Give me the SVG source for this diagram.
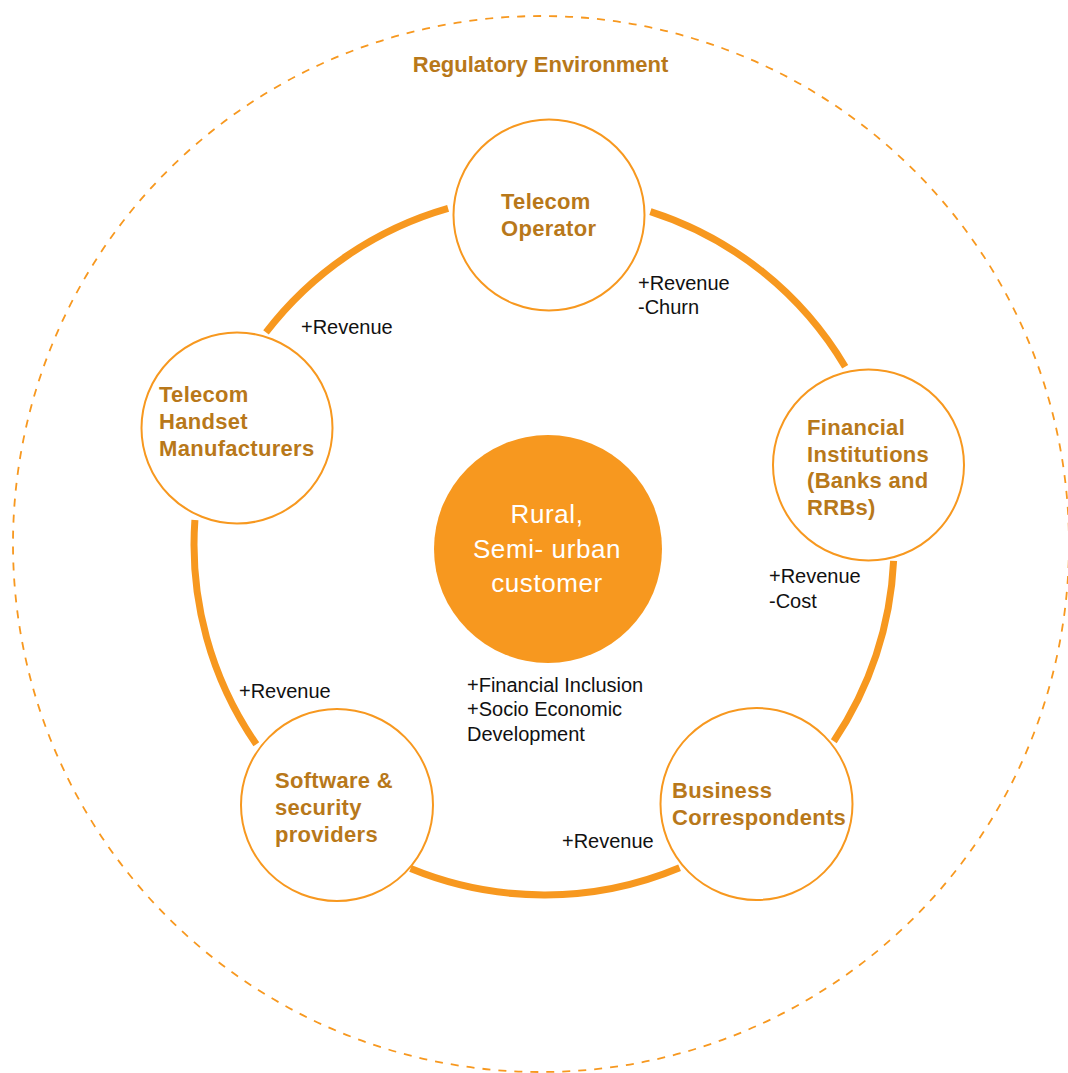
<svg xmlns="http://www.w3.org/2000/svg" width="1068" height="1073" viewBox="0 0 1068 1073">
<style>
.env{fill:none;stroke:#F7981F;stroke-width:1.8;stroke-dasharray:8 8}
.ring{fill:none;stroke:#F7981F;stroke-width:7;stroke-linecap:butt}
.node{fill:#FFFFFF;stroke:#F7981F;stroke-width:2}
.hub{fill:#F7981F}
.bt{font-family:"Liberation Sans",Arial,sans-serif;font-weight:bold;font-size:22px;fill:#B8781A;letter-spacing:0.3px}
.lt{font-family:"Liberation Sans",Arial,sans-serif;font-size:20px;fill:#111111}
.ht{font-family:"Liberation Sans",Arial,sans-serif;font-size:26px;fill:#FFFFFF;text-anchor:middle;letter-spacing:0.6px}
</style>
<rect width="1068" height="1073" fill="#FFFFFF"/>
<g id="regulatory-environment">
<circle class="env" cx="541" cy="544" r="528"/>
<text class="bt" x="540.5" y="72" text-anchor="middle" style="letter-spacing:0">Regulatory Environment</text>
</g>
<g id="connectors">
<path class="ring" d="M266,332.4 A351,351 0 0 1 448.1,208.4"/>
<path class="ring" d="M650.4,211.6 A351,351 0 0 1 845.2,366.8"/>
<path class="ring" d="M893.6,560.9 A351,351 0 0 1 833.8,741.2"/>
<path class="ring" d="M679.6,867.7 A351,351 0 0 1 410.6,868.6"/>
<path class="ring" d="M256.3,744.3 A351,351 0 0 1 194.9,520"/>
<text class="lt" x="301" y="334">+Revenue</text>
<text class="lt" x="638" y="290">+Revenue</text>
<text class="lt" x="638" y="314">-Churn</text>
<text class="lt" x="769" y="583">+Revenue</text>
<text class="lt" x="769" y="607.5">-Cost</text>
<text class="lt" x="562" y="848">+Revenue</text>
<text class="lt" x="239" y="698">+Revenue</text>
</g>
<g id="telecom-operator">
<circle class="node" cx="549" cy="215" r="95.5"/>
<text class="bt" x="501" y="209">Telecom</text>
<text class="bt" x="501" y="236">Operator</text>
</g>
<g id="telecom-handset-manufacturers">
<circle class="node" cx="237" cy="428" r="95.5"/>
<text class="bt" x="159" y="402">Telecom</text>
<text class="bt" x="159" y="429">Handset</text>
<text class="bt" x="159" y="456">Manufacturers</text>
</g>
<g id="financial-institutions">
<circle class="node" cx="868.5" cy="465" r="95.5"/>
<text class="bt" x="807" y="435">Financial</text>
<text class="bt" x="807" y="461.5">Institutions</text>
<text class="bt" x="807" y="488">(Banks and</text>
<text class="bt" x="807" y="514.5">RRBs)</text>
</g>
<g id="business-correspondents">
<circle class="node" cx="756.5" cy="804" r="96"/>
<text class="bt" x="672" y="798">Business</text>
<text class="bt" x="672" y="825">Correspondents</text>
</g>
<g id="software-security-providers">
<circle class="node" cx="337" cy="805" r="96"/>
<text class="bt" x="275" y="788">Software &amp;</text>
<text class="bt" x="275" y="815">security</text>
<text class="bt" x="275" y="842">providers</text>
</g>
<g id="rural-customer">
<circle class="hub" cx="548" cy="549" r="114"/>
<text class="ht" x="547" y="523">Rural,</text>
<text class="ht" x="547" y="557.5">Semi- urban</text>
<text class="ht" x="547" y="591.5">customer</text>
<text class="lt" x="467" y="692">+Financial Inclusion</text>
<text class="lt" x="467" y="716">+Socio Economic</text>
<text class="lt" x="467" y="741">Development</text>
</g>
</svg>
